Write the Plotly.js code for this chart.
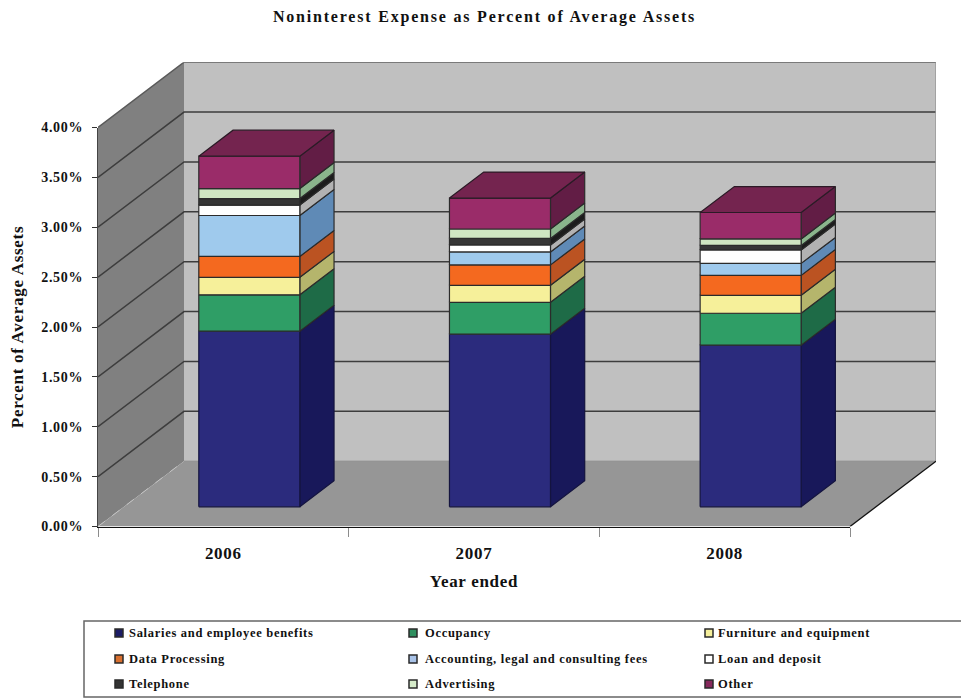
<!DOCTYPE html>
<html>
<head>
<meta charset="utf-8">
<title>Noninterest Expense as Percent of Average Assets</title>
<script src="https://cdn.plot.ly/plotly-3.0.1.min.js"></script>
<style>
  html, body { margin: 0; padding: 0; background: #fff; overflow: hidden; }
  #chart { width: 961px; height: 698px; }
  text { letter-spacing: 0.7px; }
  .gtitle { letter-spacing: 1.8px; }
</style>
</head>
<body>
<div id="chart"></div>
<script>
// Stacked expense components, in percent of average assets
const years = ["2006", "2007", "2008"];
const seriesNames = [
  "Salaries and employee benefits", "Occupancy", "Furniture and equipment",
  "Data Processing", "Accounting, legal and consulting fees", "Loan and deposit",
  "Telephone", "Advertising", "Other"
];
const salaries    = [1.76, 1.73, 1.62];
const occupancy   = [0.365, 0.32, 0.32];
const furniture   = [0.175, 0.17, 0.18];
const dataProc    = [0.21, 0.205, 0.20];
const accounting  = [0.41, 0.13, 0.12];
const loanDeposit = [0.105, 0.07, 0.135];
const telephone   = [0.065, 0.065, 0.045];
const advertising = [0.10, 0.095, 0.065];
const other       = [0.325, 0.31, 0.265];
const seriesValues = [salaries, occupancy, furniture, dataProc, accounting,
                      loanDeposit, telephone, advertising, other];

const frontColors = ["#2b2b7d", "#2f9e66", "#f6f09a", "#f4691f", "#9fcaed",
                     "#ffffff", "#363636", "#cfe6c2", "#9a2c69"];
const sideColors  = ["#18185a", "#1e6b47", "#b5b56c", "#bb5322", "#5f8ab6",
                     "#b2b2b2", "#1c1c1c", "#8ab58c", "#621d45"];
const swatchColors = ["#1c1c66", "#2f8f5f", "#f5ef9b", "#d9702f", "#a9c3e8",
                      "#ffffff", "#333333", "#d6ecca", "#86295c"];
const topColor = "#74244f";

const yTickVals = [0, 0.5, 1, 1.5, 2, 2.5, 3, 3.5, 4];
const yTickText = ["0.00%", "0.50%", "1.00%", "1.50%", "2.00%", "2.50%", "3.00%", "3.50%", "4.00%"];

// Oblique projection: a depth of 1 moves a point from the front plane to the back wall
const DEPTH_X = 86 / (752 / 3);
const DEPTH_Y = 65.3 / (399 / 4);
const BAR_WIDTH = 0.403, BAR_FRONT = 0.302, BAR_BACK = 0.70;
const project = (x, y, d) => [x + d * DEPTH_X, y + d * DEPTH_Y];

function polygon(points) {
  const p = points.map(q => project(q[0], q[1], q[2]));
  p.push(p[0]);
  return p;
}
function polygonTrace(polys, fill, line, width, name) {
  const x = [], y = [];
  polys.forEach(poly => {
    poly.forEach(q => { x.push(q[0]); y.push(q[1]); });
    x.push(null); y.push(null);
  });
  return { type: "scatter", mode: line ? "lines" : "none", x, y, name, fill: "toself", fillcolor: fill,
           line: { color: line || fill, width: width || 0 },
           showlegend: false, hoverinfo: "skip" };
}
function pathTrace(points, color, width, dash) {
  const p = points.map(q => q ? project(q[0], q[1], q[2]) : [null, null]);
  return { type: "scatter", mode: "lines", x: p.map(q => q[0]), y: p.map(q => q[1]),
           line: { color, width, dash: dash || "solid" },
           showlegend: false, hoverinfo: "skip" };
}

const traces = [];
const N = years.length, TOP = 4;

// Walls and floor
traces.push(polygonTrace([polygon([[0, 0, 1], [N, 0, 1], [N, TOP, 1], [0, TOP, 1]])], "#c0c0c0"));
traces.push(polygonTrace([polygon([[0, 0, 0], [0, 0, 1], [0, TOP, 1], [0, TOP, 0]])], "#808080"));
traces.push(polygonTrace([polygon([[0, 0, 0], [N, 0, 0], [N, 0, 1], [0, 0, 1]])], "#969696"));

// Gridlines run along the side wall and across the back wall
yTickVals.filter(v => v > 0).forEach(v => {
  traces.push(pathTrace([[0, v, 0], [0, v, 1], [N, v, 1]], v === TOP ? "#5a5a5a" : "#3d3d3d", 1.5));
});
traces.push(pathTrace([[N, 0, 1], [N, TOP, 1]], "#999999", 1.5));
traces.push(pathTrace([[0, 0, 1], [N, 0, 1]], "#8a8a8a", 1));
traces.push(pathTrace([[0, 0, 0], [0, 0, 1]], "#c4c4c4", 1, "dash"));
traces.push(pathTrace([[N, 0, 0], [N, 0, 1]], "#111111", 1.3));

// Stacked bars: one front trace and one side trace per series, lids on the top
const cumulative = years.map(() => 0);
seriesNames.forEach((name, s) => {
  const fronts = [], sides = [];
  years.forEach((yr, i) => {
    const lo = cumulative[i], hi = lo + seriesValues[s][i];
    const left = i + 0.5 - BAR_WIDTH / 2, right = i + 0.5 + BAR_WIDTH / 2;
    fronts.push(polygon([[left, lo, BAR_FRONT], [right, lo, BAR_FRONT], [right, hi, BAR_FRONT], [left, hi, BAR_FRONT]]));
    sides.push(polygon([[right, lo, BAR_FRONT], [right, lo, BAR_BACK], [right, hi, BAR_BACK], [right, hi, BAR_FRONT]]));
    cumulative[i] = hi;
  });
  const edge = s === 0 ? "#14143f" : "#2b2b2b";
  traces.push(polygonTrace(sides, sideColors[s], edge, 1.2, name));
  traces.push(polygonTrace(fronts, frontColors[s], edge, 1.2, name));
});
const lids = years.map((yr, i) => {
  const left = i + 0.5 - BAR_WIDTH / 2, right = i + 0.5 + BAR_WIDTH / 2, h = cumulative[i];
  return polygon([[left, h, BAR_FRONT], [right, h, BAR_FRONT], [right, h, BAR_BACK], [left, h, BAR_BACK]]);
});
traces.push(polygonTrace(lids, topColor, "#2b1a26", 1.2, "Other"));

// An empty trace brings up the front-plane axes that carry ticks, labels and titles
traces.push({ type: "scatter", mode: "lines", x: [null], y: [null], xaxis: "x2", yaxis: "y2",
              showlegend: false, hoverinfo: "skip" });

// The page is the paper: margins are zero, so layout positions are page fractions
const WIDTH = 961, HEIGHT = 698;
const pageX = px => px / WIDTH;
const pageY = py => 1 - py / HEIGHT;
const serif = "'Liberation Serif', 'Times New Roman', serif";
const boldFont = size => ({ family: serif, size, color: "#111111", weight: 700 });

// Key: a framed box of three rows and three columns
const keyColumns = [115, 409, 705], keyTextColumns = [127, 423, 716], keyRows = [633, 659, 684];
const shapes = [{
  type: "rect", xref: "paper", yref: "paper", layer: "above",
  x0: pageX(84), x1: pageX(964), y0: pageY(621), y1: pageY(697),
  line: { color: "#666666", width: 1.5 }, fillcolor: "rgba(0,0,0,0)"
}];
const annotations = [];
seriesNames.forEach((name, s) => {
  const col = s % 3, row = Math.floor(s / 3);
  shapes.push({
    type: "rect", xref: "paper", yref: "paper",
    x0: pageX(keyColumns[col]), x1: pageX(keyColumns[col] + 8),
    y0: pageY(keyRows[row] - 4), y1: pageY(keyRows[row] + 4),
    line: { color: "#2a2a2a", width: 1.5 }, fillcolor: swatchColors[s]
  });
  annotations.push({
    text: name, xref: "paper", yref: "paper", showarrow: false, xanchor: "left", yanchor: "middle",
    x: pageX(keyTextColumns[col]), y: pageY(keyRows[row]), font: boldFont(12.5)
  });
});

const layout = {
  width: WIDTH, height: HEIGHT,
  margin: { l: 0, r: 0, t: 0, b: 0, pad: 0 },
  paper_bgcolor: "#ffffff", plot_bgcolor: "rgba(0,0,0,0)",
  showlegend: false,
  title: {
    text: "Noninterest Expense as Percent of Average Assets",
    font: boldFont(16), xref: "paper", yref: "paper", automargin: false,
    x: pageX(484.5), xanchor: "center", y: pageY(16), yanchor: "middle"
  },
  // Hidden axes span the whole box, back wall included
  xaxis: { domain: [pageX(98), pageX(936)], range: [0, N + DEPTH_X], visible: false, fixedrange: true },
  yaxis: { domain: [pageY(526.5), pageY(62.2)], range: [0, TOP + DEPTH_Y], visible: false, fixedrange: true },
  // Visible axes lie along the front plane
  xaxis2: {
    anchor: "y2", domain: [pageX(98), pageX(850)], range: [0, N], fixedrange: true,
    showgrid: false, zeroline: false, showline: true, linecolor: "#111111", linewidth: 1.5,
    tickmode: "array", tickvals: years.map((y, i) => i + 0.5), ticktext: years, ticks: "",
    ticklabelstandoff: 11, tickfont: boldFont(17),
    minor: { tickmode: "array", tickvals: [0, 1, 2, 3], ticks: "outside", ticklen: 9, tickcolor: "#8c8c8c", tickwidth: 1, showgrid: false },
    title: { text: "Year ended", font: boldFont(17), standoff: 12 }
  },
  yaxis2: {
    anchor: "x2", domain: [pageY(526.5), pageY(127.5)], range: [0, TOP], fixedrange: true,
    showgrid: false, zeroline: false, showline: true, linecolor: "#444444", linewidth: 1,
    tickmode: "array", tickvals: yTickVals, ticktext: yTickText, ticks: "outside", ticklen: 5,
    tickcolor: "#333333", ticklabelstandoff: 6, tickfont: boldFont(14),
    title: { text: "Percent of Average Assets", font: boldFont(17), standoff: 13 }
  },
  shapes, annotations
};

Plotly.newPlot("chart", traces, layout, { displayModeBar: false, staticPlot: true });
</script>
</body>
</html>
